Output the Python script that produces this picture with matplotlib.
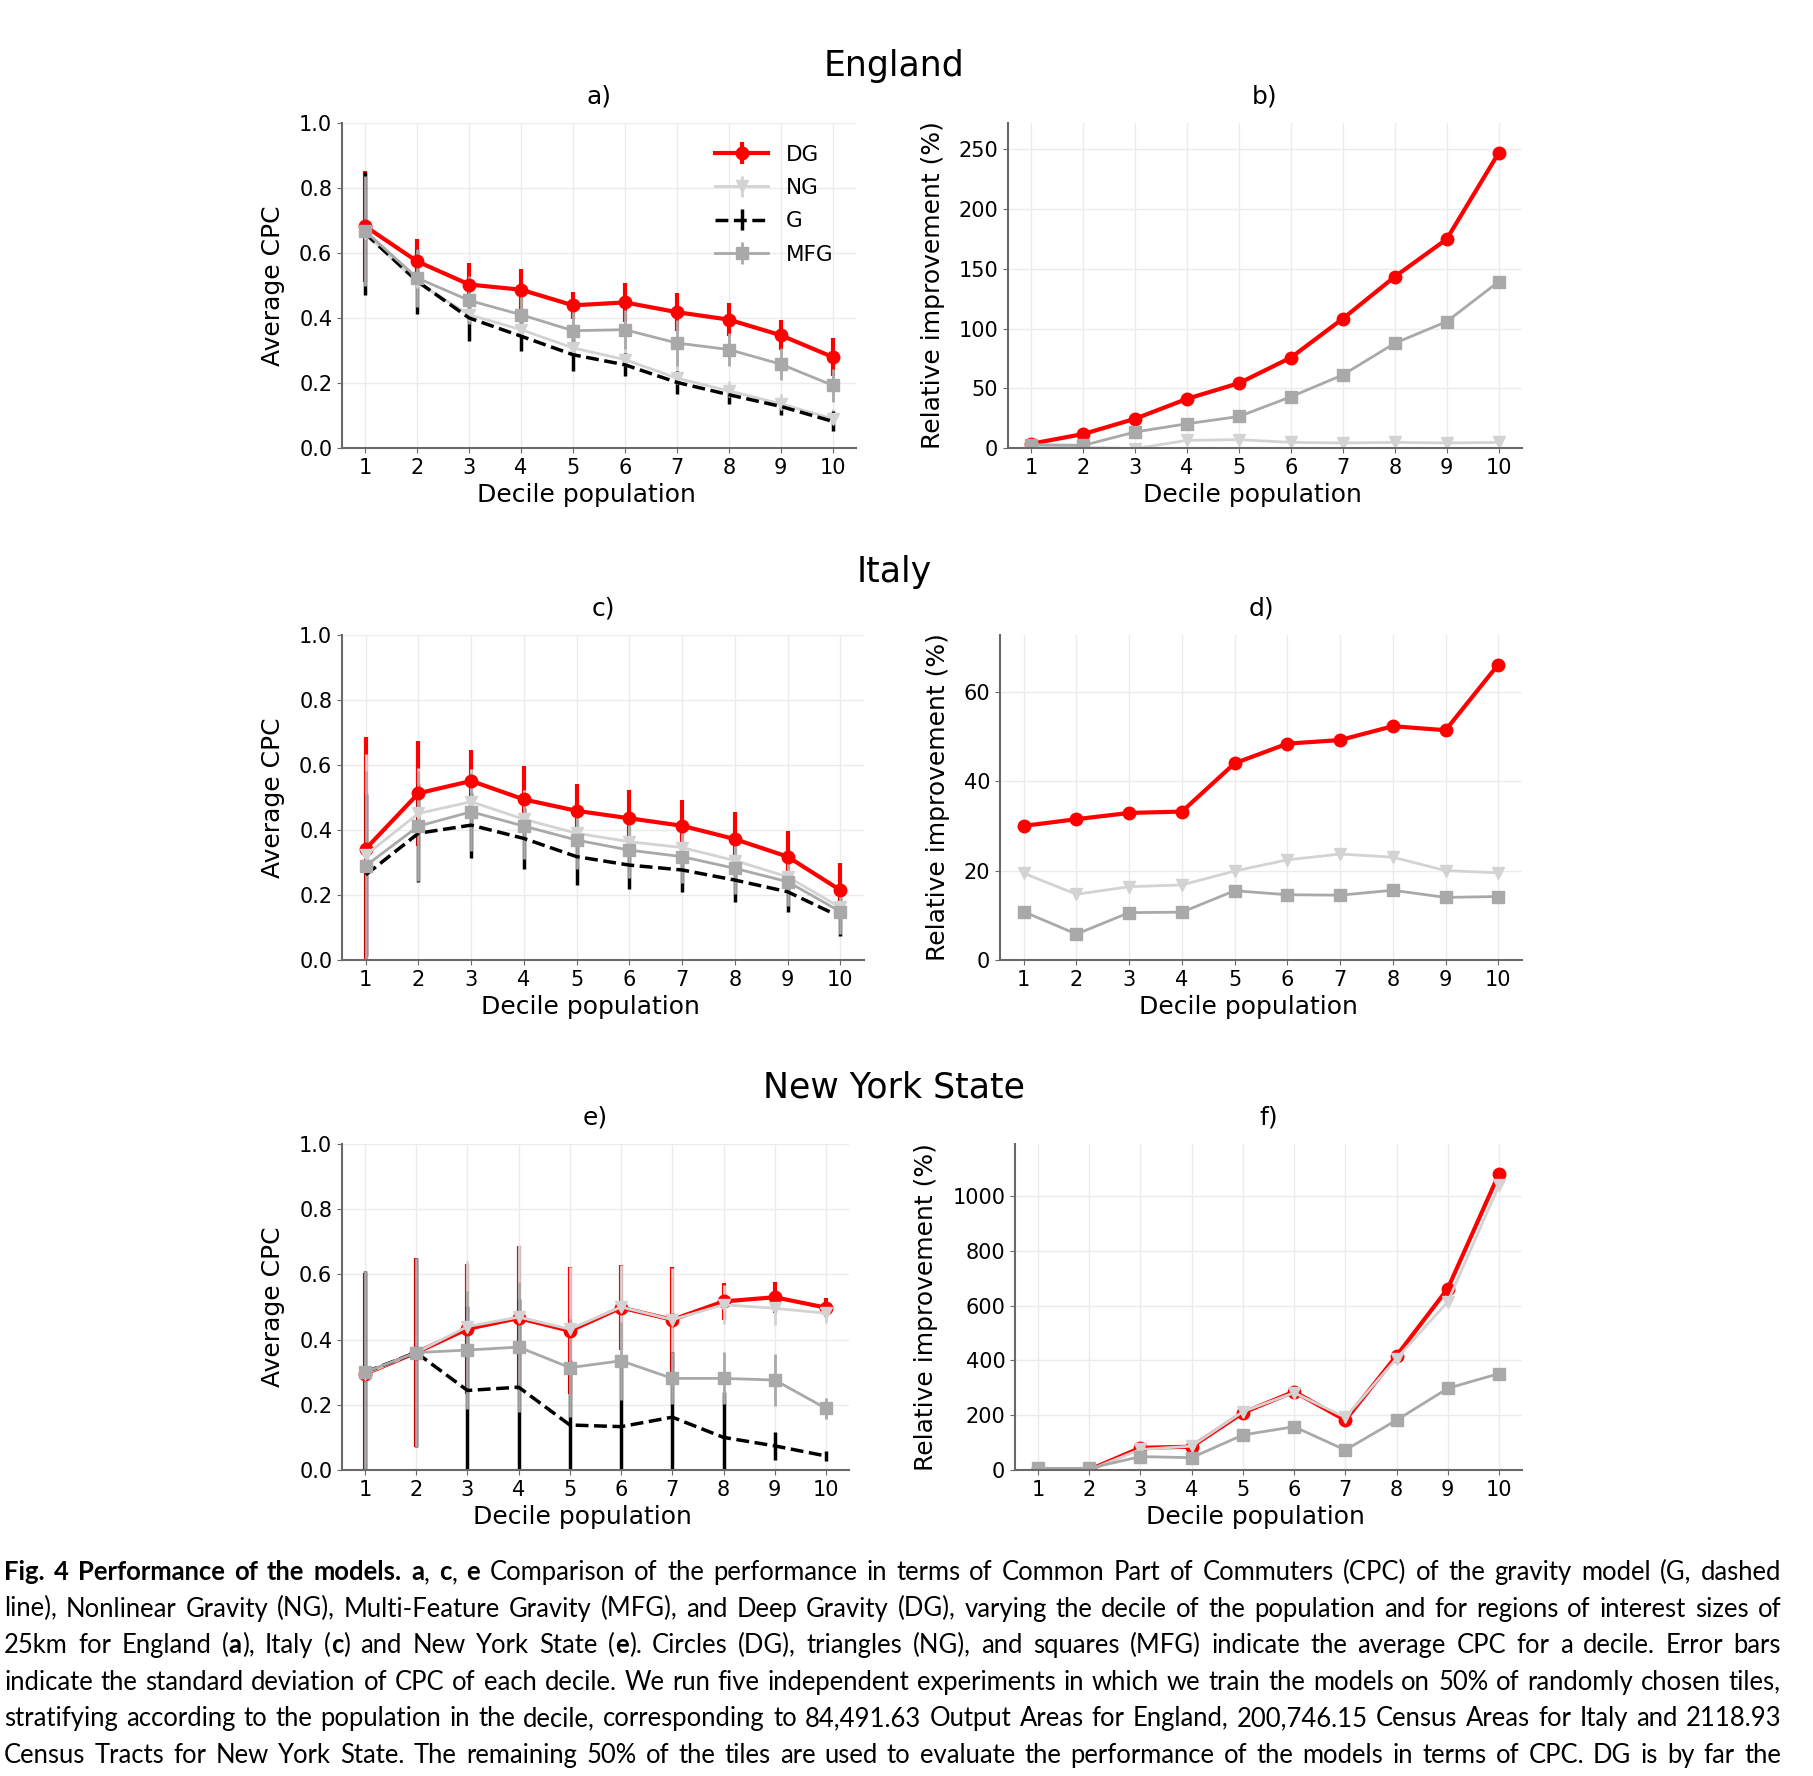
import matplotlib.pyplot as plt

deciles = list(range(1, 11))

# England (a): average CPC and std
eng_dg = [0.682, 0.574, 0.503, 0.487, 0.439, 0.448, 0.418, 0.395, 0.347, 0.280]
eng_dg_err = [0.17, 0.069, 0.066, 0.064, 0.041, 0.06, 0.059, 0.051, 0.046, 0.058]
eng_ng = [0.66, 0.51, 0.41, 0.364, 0.308, 0.272, 0.215, 0.176, 0.136, 0.09]
eng_ng_err = [0.17, 0.09, 0.07, 0.06, 0.05, 0.04, 0.04, 0.03, 0.03, 0.03]
eng_g = [0.66, 0.513, 0.40, 0.344, 0.287, 0.256, 0.202, 0.164, 0.128, 0.082]
eng_g_err = [0.19, 0.10, 0.072, 0.047, 0.05, 0.036, 0.036, 0.028, 0.025, 0.031]
eng_mfg = [0.667, 0.523, 0.454, 0.41, 0.361, 0.364, 0.323, 0.303, 0.258, 0.193]
eng_mfg_err = [0.17, 0.09, 0.074, 0.057, 0.07, 0.06, 0.07, 0.05, 0.05, 0.05]

# England (b): relative improvement (%)
eng_rel_dg = [3.6, 11.7, 24.5, 41.2, 54.3, 75.7, 108.3, 143.4, 174.8, 246.9]
eng_rel_ng = [1.0, 0.5, -0.5, 6.4, 7.0, 4.7, 4.2, 4.7, 4.2, 4.7]
eng_rel_mfg = [2.8, 2.2, 13.4, 20.3, 26.4, 42.9, 61.2, 87.7, 105.8, 139.2]

# Italy (c)
ita_dg = [0.342, 0.513, 0.551, 0.494, 0.459, 0.436, 0.413, 0.372, 0.318, 0.215]
ita_dg_err = [0.343, 0.162, 0.095, 0.104, 0.081, 0.087, 0.079, 0.084, 0.08, 0.082]
ita_ng = [0.323, 0.451, 0.487, 0.433, 0.39, 0.364, 0.346, 0.306, 0.256, 0.162]
ita_ng_err = [0.31, 0.14, 0.1, 0.09, 0.08, 0.08, 0.075, 0.075, 0.07, 0.06]
ita_g = [0.262, 0.39, 0.415, 0.374, 0.318, 0.292, 0.277, 0.246, 0.21, 0.133]
ita_g_err = [0.25, 0.15, 0.1, 0.095, 0.087, 0.075, 0.067, 0.069, 0.061, 0.059]
ita_mfg = [0.29, 0.412, 0.456, 0.412, 0.369, 0.338, 0.318, 0.282, 0.241, 0.149]
ita_mfg_err = [0.29, 0.17, 0.12, 0.1, 0.09, 0.085, 0.08, 0.08, 0.075, 0.07]

# Italy (d)
ita_rel_dg = [30.0, 31.5, 32.9, 33.2, 44.0, 48.4, 49.2, 52.3, 51.4, 66.1]
ita_rel_ng = [19.4, 14.7, 16.4, 16.8, 19.9, 22.4, 23.7, 23.0, 20.0, 19.5]
ita_rel_mfg = [10.8, 5.8, 10.6, 10.7, 15.5, 14.6, 14.5, 15.6, 14.0, 14.2]

# New York State (e)
ny_dg = [0.295, 0.36, 0.433, 0.466, 0.427, 0.498, 0.461, 0.517, 0.53, 0.498]
ny_dg_err = [0.31, 0.29, 0.2, 0.22, 0.195, 0.13, 0.163, 0.056, 0.048, 0.03]
ny_ng = [0.295, 0.36, 0.44, 0.469, 0.432, 0.50, 0.461, 0.507, 0.496, 0.481]
ny_ng_err = [0.31, 0.29, 0.2, 0.22, 0.19, 0.13, 0.16, 0.06, 0.05, 0.03]
ny_g = [0.30, 0.36, 0.244, 0.254, 0.138, 0.133, 0.162, 0.10, 0.074, 0.043]
ny_g_err = [0.31, 0.29, 0.26, 0.27, 0.2, 0.2, 0.2, 0.14, 0.043, 0.015]
ny_mfg = [0.30, 0.36, 0.368, 0.377, 0.314, 0.335, 0.281, 0.281, 0.276, 0.189]
ny_mfg_err = [0.31, 0.29, 0.18, 0.2, 0.15, 0.12, 0.08, 0.08, 0.08, 0.033]

# New York State (f)
ny_rel_dg = [2, 1, 81, 85, 209, 286, 182, 417, 662, 1081]
ny_rel_ng = [0, 0, 75, 87, 213, 282, 192, 407, 614, 1039]
ny_rel_mfg = [6, 6, 49, 45, 128, 158, 73, 182, 298, 352]

caption = [
    [("Fig. 4 Performance of the models.", True), (" ", False), ("a", True), (", ", False),
     ("c", True), (", ", False), ("e", True),
     (" Comparison of the performance in terms of Common Part of Commuters (CPC) of the gravity model (G, dashed", False)],
    [("line), Nonlinear Gravity (NG), Multi-Feature Gravity (MFG), and Deep Gravity (DG), varying the decile of the population and for regions of interest sizes of", False)],
    [("25km for England (", False), ("a", True), ("), Italy (", False), ("c", True),
     (") and New York State (", False), ("e", True),
     ("). Circles (DG), triangles (NG), and squares (MFG) indicate the average CPC for a decile. Error bars", False)],
    [("indicate the standard deviation of CPC of each decile. We run five independent experiments in which we train the models on 50% of randomly chosen tiles,", False)],
    [("stratifying according to the population in the decile, corresponding to 84,491.63 Output Areas for England, 200,746.15 Census Areas for Italy and 2118.93", False)],
    [("Census Tracts for New York State. The remaining 50% of the tiles are used to evaluate the performance of the models in terms of CPC. DG is by far the", False)],
]

W, H = 1813, 1776
fig = plt.figure(figsize=(W / 100, H / 100), dpi=100)

C_DG, C_NG, C_G, C_MFG = 'red', '#d3d3d3', 'black', '#a9a9a9'


def box(l, t, r, b):
    return [l / W, 1 - b / H, (r - l) / W, (b - t) / H]


def style(ax, title, ylabel, ylim, yticks):
    ax.set_title(title, fontsize=18, pad=14)
    ax.set_xlabel('Decile population', fontsize=18)
    ax.xaxis.label.set_x(0.475)
    ax.set_ylabel(ylabel, fontsize=18, labelpad=10)
    ax.set_xticks(deciles)
    ax.set_ylim(*ylim)
    ax.set_yticks(yticks)
    ax.tick_params(labelsize=15, color='dimgray')
    ax.grid(True, color='#ebebeb', lw=1)
    ax.set_axisbelow(True)
    for s in ['top', 'right']:
        ax.spines[s].set_visible(False)
    for s in ['left', 'bottom']:
        ax.spines[s].set_color('dimgray')
        ax.spines[s].set_linewidth(1.5)


def cpc_panel(ax, dg, dge, ng, nge, g, ge, mfg, mfge, title, legend=False):
    ax.errorbar(deciles, dg, yerr=dge, color=C_DG, lw=3, marker='o', ms=9, label='DG')
    ax.errorbar(deciles, ng, yerr=nge, color=C_NG, lw=2, marker='v', ms=9, label='NG')
    ax.errorbar(deciles, g, yerr=ge, color=C_G, lw=2.5, ls='--', label='G')
    ax.errorbar(deciles, mfg, yerr=mfge, color=C_MFG, lw=2, marker='s', ms=9, label='MFG')
    style(ax, title, 'Average CPC', (0, 1), [0, 0.2, 0.4, 0.6, 0.8, 1.0])
    if legend:
        ax.legend(loc='upper right', bbox_to_anchor=(0.985, 0.98), frameon=False,
                  fontsize=15.5, handlelength=2.5, labelspacing=0.62, borderaxespad=0.3)


def rel_panel(ax, dg, ng, mfg, title, ylim, yticks):
    ax.plot(deciles, dg, color=C_DG, lw=3, marker='o', ms=9)
    ax.plot(deciles, ng, color=C_NG, lw=2, marker='v', ms=8)
    ax.plot(deciles, mfg, color=C_MFG, lw=2, marker='s', ms=9)
    style(ax, title, 'Relative improvement (%)', ylim, yticks)


ax_a = fig.add_axes(box(342, 123, 856, 448))
ax_b = fig.add_axes(box(1008, 123, 1522, 448))
ax_c = fig.add_axes(box(342, 635, 864, 960))
ax_d = fig.add_axes(box(1000, 635, 1522, 960))
ax_e = fig.add_axes(box(342, 1144, 849, 1470))
ax_f = fig.add_axes(box(1015, 1144, 1522, 1470))

cpc_panel(ax_a, eng_dg, eng_dg_err, eng_ng, eng_ng_err, eng_g, eng_g_err, eng_mfg, eng_mfg_err, 'a)', legend=True)
rel_panel(ax_b, eng_rel_dg, eng_rel_ng, eng_rel_mfg, 'b)', (0, 272), [0, 50, 100, 150, 200, 250])
cpc_panel(ax_c, ita_dg, ita_dg_err, ita_ng, ita_ng_err, ita_g, ita_g_err, ita_mfg, ita_mfg_err, 'c)')
rel_panel(ax_d, ita_rel_dg, ita_rel_ng, ita_rel_mfg, 'd)', (0, 72.7), [0, 20, 40, 60])
cpc_panel(ax_e, ny_dg, ny_dg_err, ny_ng, ny_ng_err, ny_g, ny_g_err, ny_mfg, ny_mfg_err, 'e)')
rel_panel(ax_f, ny_rel_dg, ny_rel_ng, ny_rel_mfg, 'f)', (0, 1190), [0, 200, 400, 600, 800, 1000])

for label, y in [('England', 66), ('Italy', 572), ('New York State', 1087)]:
    fig.text(894 / W, 1 - y / H, label, ha='center', va='center', fontsize=25)


# justified caption
def to_words(segs):
    words, cur = [], []
    for txt, bold in segs:
        for j, part in enumerate(txt.split(' ')):
            if j > 0 and cur:
                words.append(cur)
                cur = []
            if part:
                cur.append((part, bold))
    if cur:
        words.append(cur)
    return words


renderer = fig.canvas.get_renderer()
x0, x1 = 4, 1781

# pick a font size so that the widest line fits with normal spacing
probe_fs = 10
scale = 10.0
for segs in caption:
    t = fig.text(0, 0, ''.join(s for s, _ in segs), fontsize=probe_fs, family='Lato')
    scale = min(scale, (x1 - x0) / t.get_window_extent(renderer).width)
    t.remove()
cap_fs = probe_fs * scale * 0.985

for i, segs in enumerate(caption):
    y = 1580 + 36.5 * i
    items = []
    for w in to_words(segs):
        parts, wsum = [], 0
        for part, bold in w:
            t = fig.text(0, 1 - y / H, part, fontsize=cap_fs, family='Lato',
                         fontweight='bold' if bold else 'normal', va='baseline', ha='left')
            wd = t.get_window_extent(renderer).width
            parts.append((t, wd))
            wsum += wd
        items.append((parts, wsum))
    total = sum(ws for _, ws in items)
    gap = (x1 - x0 - total) / (len(items) - 1)
    x = x0
    for parts, ws in items:
        xx = x
        for t, wd in parts:
            t.set_x(xx / W)
            xx += wd
        x += ws + gap

fig.savefig('out.png', dpi=100)
